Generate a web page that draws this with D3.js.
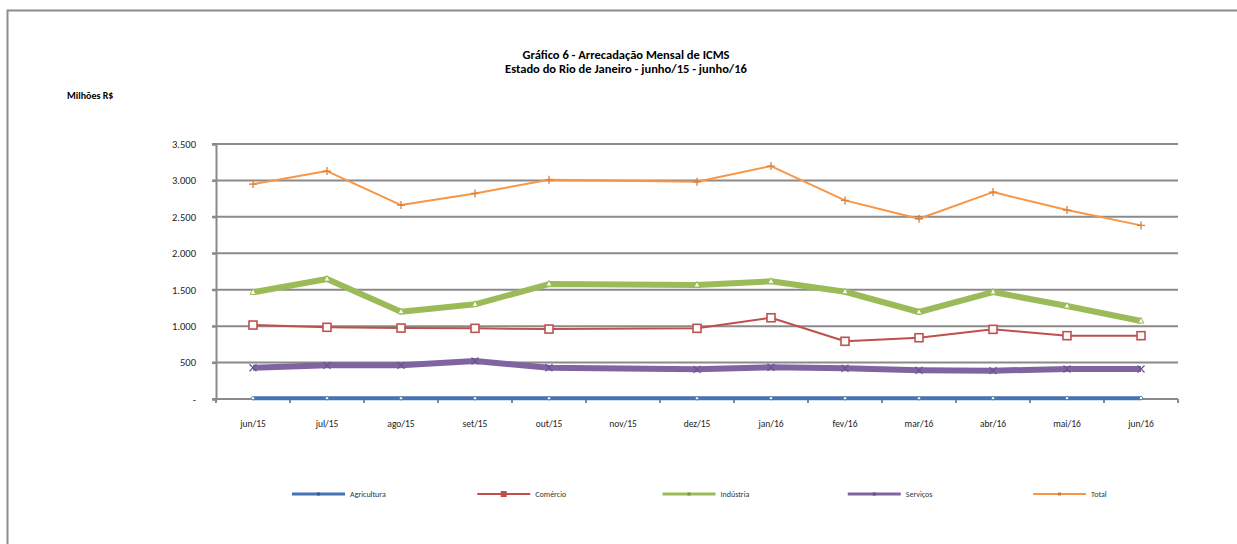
<!DOCTYPE html>
<html>
<head>
<meta charset="utf-8">
<script src="https://cdn.jsdelivr.net/npm/d3@7"></script>
<style>
  body { margin: 0; background: #fff; overflow: hidden; }
  svg { display: block; }
  svg text { font-family: Carlito, Calibri, "Open Sans", sans-serif; }
</style>
</head>
<body>
<div id="chart"></div>
<script>
var svgWidth = 1237;
var svgHeight = 544;

// months on the x axis (nov/15 has no data in the source)
var months = ["jun/15", "jul/15", "ago/15", "set/15", "out/15", "nov/15", "dez/15",
  "jan/16", "fev/16", "mar/16", "abr/16", "mai/16", "jun/16"];

var agricultura = [10, 11, 10, 10, 10, null, 10, 11, 10, 10, 11, 12, 12];
var comercio = [1015, 984, 974, 970, 960, null, 970, 1115, 792, 841, 956, 869, 869];
var industria = [1464, 1646, 1198, 1299, 1578, null, 1564, 1615, 1472, 1194, 1468, 1276, 1070];
var servicos = [430, 462, 462, 521, 430, null, 407, 435, 421, 394, 389, 412, 412];
var total = [2950, 3128, 2662, 2822, 3010, null, 2981, 3197, 2726, 2474, 2840, 2593, 2383];

var seriesNames = ["Agricultura", "Comércio", "Indústria", "Serviços", "Total"];
var yTicks = [0, 500, 1000, 1500, 2000, 2500, 3000, 3500];

var series = [
  { name: seriesNames[0], values: agricultura, color: "#4673b4", width: 4, marker: "diamond" },
  { name: seriesNames[1], values: comercio, color: "#c0504d", width: 2, marker: "square" },
  { name: seriesNames[2], values: industria, color: "#9bbb59", width: 6, marker: "triangle" },
  { name: seriesNames[3], values: servicos, color: "#8064a2", width: 6, marker: "cross" },
  { name: seriesNames[4], values: total, color: "#f79646", width: 2, marker: "plus" }
];

var plot = { left: 216, right: 1178, top: 144, bottom: 399 };

var svg = d3.select("#chart")
  .append("svg")
  .attr("width", svgWidth)
  .attr("height", svgHeight);

// outer frame (right and bottom edges fall outside the picture)
svg.append("rect")
  .attr("x", 7.5).attr("y", 10.5)
  .attr("width", 1260).attr("height", 560)
  .attr("fill", "none")
  .attr("stroke", "#8c8c8c")
  .attr("stroke-width", 2);

var x = d3.scaleBand()
  .domain(months)
  .range([plot.left, plot.right]);

var y = d3.scaleLinear()
  .domain([0, 3500])
  .range([plot.bottom, plot.top]);

var loc = d3.formatLocale({ decimal: ",", thousands: ".", grouping: [3], currency: ["R$", ""] });
var fmt = loc.format(",.0f");

// gridlines
svg.append("g")
  .selectAll("line")
  .data(yTicks.filter(d => d > 0))
  .enter()
  .append("line")
  .attr("x1", plot.left - 4)
  .attr("x2", plot.right)
  .attr("y1", d => y(d))
  .attr("y2", d => y(d))
  .attr("stroke", "#8a8a8a")
  .attr("stroke-width", 2);

// y axis
var leftAxis = d3.axisLeft(y)
  .tickValues(yTicks)
  .tickSize(4)
  .tickFormat(d => d === 0 ? "-" : fmt(d));

var yAxis = svg.append("g")
  .attr("transform", `translate(${plot.left}, 0)`)
  .call(leftAxis);
yAxis.select(".domain").attr("stroke", "#8a8a8a").attr("stroke-width", 2);
yAxis.selectAll(".tick line").attr("stroke", "#8a8a8a").attr("stroke-width", 2);
yAxis.selectAll(".tick text")
  .attr("x", -20)
  .attr("font-size", "10.5px")
  .attr("fill", "#222");

// x axis line and ticks at band boundaries
svg.append("line")
  .attr("x1", plot.left - 4).attr("x2", plot.right)
  .attr("y1", plot.bottom).attr("y2", plot.bottom)
  .attr("stroke", "#8a8a8a").attr("stroke-width", 2);

svg.append("g")
  .selectAll("line")
  .data(d3.range(months.length + 1))
  .enter()
  .append("line")
  .attr("x1", i => plot.left + i * x.step())
  .attr("x2", i => plot.left + i * x.step())
  .attr("y1", plot.bottom)
  .attr("y2", plot.bottom + 4)
  .attr("stroke", "#8a8a8a")
  .attr("stroke-width", 2);

svg.append("g")
  .selectAll("text")
  .data(months)
  .enter()
  .append("text")
  .attr("x", d => x(d) + x.bandwidth() / 2)
  .attr("y", 427)
  .attr("text-anchor", "middle")
  .attr("font-size", "9.5px")
  .attr("fill", "#222")
  .text(d => d);

var cx = d => x(d.m) + x.bandwidth() / 2;

var line = d3.line()
  .x(cx)
  .y(d => y(d.v));

function drawMarker(g, type, color, px, py) {
  if (type === "square") {
    g.append("rect")
      .attr("x", px - 4).attr("y", py - 4)
      .attr("width", 8).attr("height", 8)
      .attr("fill", "#fff").attr("stroke", color).attr("stroke-width", 1.6);
  } else if (type === "triangle") {
    g.append("path")
      .attr("d", `M${px},${py - 3.5}L${px + 3},${py + 2}L${px - 3},${py + 2}Z`)
      .attr("fill", "#fff").attr("stroke", color).attr("stroke-width", 1);
  } else if (type === "cross") {
    g.append("path")
      .attr("d", `M${px - 3.5},${py - 3.5}L${px + 3.5},${py + 3.5}M${px - 3.5},${py + 3.5}L${px + 3.5},${py - 3.5}`)
      .attr("stroke", "#6b5590").attr("stroke-width", 1.3);
  } else if (type === "plus") {
    g.append("path")
      .attr("d", `M${px - 4},${py}L${px + 4},${py}M${px},${py - 4}L${px},${py + 4}`)
      .attr("stroke", "#d9803a").attr("stroke-width", 1.3);
  } else {
    g.append("path")
      .attr("d", `M${px},${py - 2}L${px + 2},${py}L${px},${py + 2}L${px - 2},${py}Z`)
      .attr("fill", "#fff").attr("stroke", color).attr("stroke-width", 1);
  }
}

series.forEach(function(s) {
  var pts = months.map((m, i) => ({ m: m, v: s.values[i] })).filter(d => d.v !== null);
  var g = svg.append("g");
  g.append("path")
    .datum(pts)
    .attr("d", line)
    .attr("fill", "none")
    .attr("stroke", s.color)
    .attr("stroke-width", s.width)
    .attr("stroke-linejoin", "round");
  pts.forEach(d => drawMarker(g, s.marker, s.color, cx(d), y(d.v)));
});

// titles
svg.append("text")
  .attr("x", 626).attr("y", 59)
  .attr("text-anchor", "middle")
  .attr("font-size", "12.5px")
  .attr("font-weight", "bold")
  .text("Gráfico 6 - Arrecadação Mensal de ICMS");

svg.append("text")
  .attr("x", 626).attr("y", 73)
  .attr("text-anchor", "middle")
  .attr("font-size", "12.5px")
  .attr("font-weight", "bold")
  .text("Estado do Rio de Janeiro - junho/15 - junho/16");

svg.append("text")
  .attr("x", 67).attr("y", 99)
  .attr("font-size", "10px")
  .attr("font-weight", "bold")
  .text("Milhões R$");

// legend
var legendX = d3.scalePoint()
  .domain(seriesNames)
  .range([292, 1033]);

var legend = svg.append("g")
  .selectAll("g")
  .data(series)
  .enter()
  .append("g")
  .attr("transform", d => `translate(${legendX(d.name)}, 494)`);

legend.append("line")
  .attr("x1", 0).attr("x2", 53)
  .attr("y1", 0).attr("y2", 0)
  .attr("stroke", d => d.color)
  .attr("stroke-width", d => Math.min(d.width, 3));

legend.each(function(d) {
  var g = d3.select(this);
  if (d.marker === "square") {
    g.append("rect").attr("x", 23.5).attr("y", -3).attr("width", 6).attr("height", 6)
      .attr("fill", d.color);
  } else {
    g.append("rect").attr("x", 25).attr("y", -1.5).attr("width", 3).attr("height", 3)
      .attr("fill", d3.color(d.color).darker(0.6));
  }
});

legend.append("text")
  .attr("x", 58).attr("y", 3)
  .attr("font-size", "8px")
  .attr("fill", "#333")
  .text(d => d.name);
</script>
</body>
</html>
